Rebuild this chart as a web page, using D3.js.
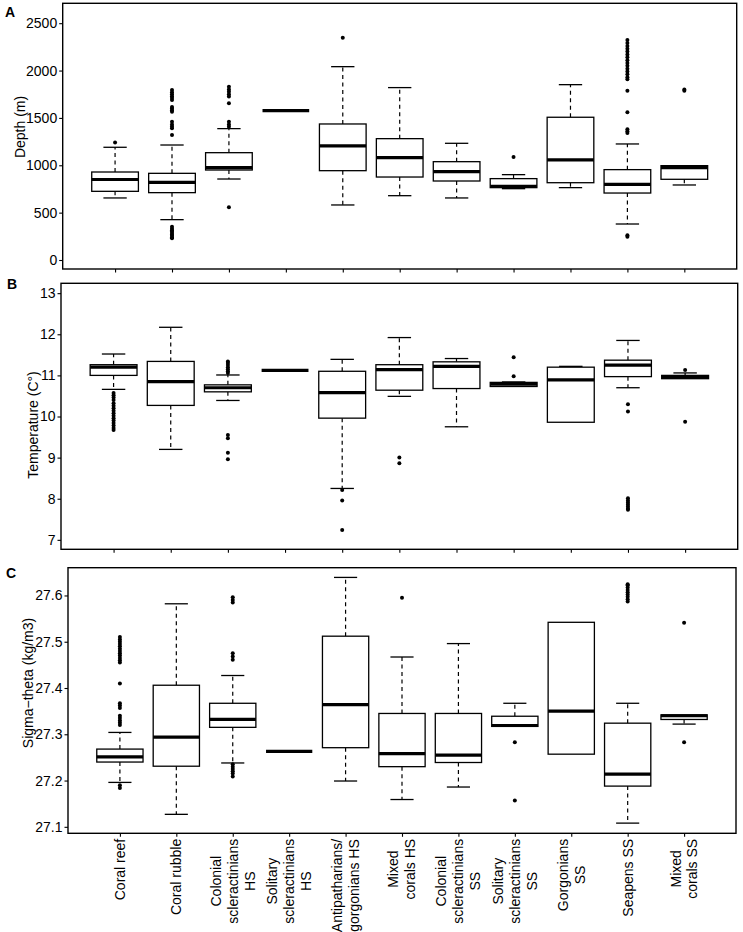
<!DOCTYPE html>
<html lang="en">
<head>
  <meta charset="UTF-8">
  <title>Boxplots - Depth, Temperature, Sigma-theta</title>
  <script src="https://d3js.org/d3.v7.min.js"></script>
  <style>
    body { margin: 0; background: #fff; }
    svg { font-family: "Liberation Sans", Arial, sans-serif; }
    .axis path { display: none; }
    .axis line { stroke: #000; stroke-width: 1.1px; }
    .axis text { font-size: 14px; fill: #000; }
    .frame { fill: none; stroke: #000; stroke-width: 1.4px; }
    .box { fill: #fff; stroke: #000; stroke-width: 1.3px; }
    .median { stroke: #000; stroke-width: 3.2px; }
    .whisker { stroke: #000; stroke-width: 1.2px; stroke-dasharray: 4,3.5; }
    .cap { stroke: #000; stroke-width: 1.3px; }
  </style>
</head>
<body>
  <svg width="743" height="932"></svg>

  <script>
    // categories, lines split for the rotated labels
    const categories = [
      ["Coral reef"],
      ["Coral rubble"],
      ["Colonial", "scleractinians", "HS"],
      ["Solitary", "scleractinians", "HS"],
      ["Antipatharians/", "gorgonians HS"],
      ["Mixed", "corals HS"],
      ["Colonial", "scleractinians", "SS"],
      ["Solitary", "scleractinians", "SS"],
      ["Gorgonians", "SS"],
      ["Seapens SS"],
      ["Mixed", "corals SS"]
    ];

    // [lower whisker, q1, median, q3, upper whisker]
    const depthBoxes = [
      [655, 725, 850, 929, 1190],
      [426, 711, 820, 915, 1214],
      [855, 950, 975, 1133, 1387],
      [1577, 1577, 1577, 1577, 1577],
      [581, 943, 1204, 1436, 2041],
      [679, 876, 1080, 1281, 1820],
      [655, 834, 932, 1038, 1232],
      [753, 764, 778, 859, 901],
      [764, 816, 1056, 1507, 1851],
      [380, 707, 799, 954, 1225],
      [792, 852, 975, 996, 996]
    ];
    const depthOutliers = [
      [1240],
      [229, 240, 255, 270, 285, 300, 315, 330, 352,
       1320, 1390, 1410, 1430, 1460, 1566, 1580, 1600, 1615,
       1690, 1710, 1730, 1750, 1770, 1795],
      [556, 1408, 1430, 1460, 1655, 1725, 1750, 1775, 1800, 1830],
      [],
      [2347],
      [],
      [],
      [1088],
      [],
      [246, 262, 1340, 1360, 1380, 1560, 1788, 1908, 1930, 1960, 1990, 2020,
       2050, 2080, 2110, 2140, 2170, 2200, 2230, 2260, 2290, 2323],
      [1788, 1800]
    ];

    const tempBoxes = [
      [10.66, 11.0, 11.20, 11.26, 11.52],
      [9.2, 10.27, 10.85, 11.34, 12.17],
      [10.39, 10.6, 10.70, 10.77, 11.01],
      [11.12, 11.12, 11.12, 11.12, 11.12],
      [8.25, 9.96, 10.58, 11.10, 11.39],
      [10.49, 10.64, 11.14, 11.26, 11.92],
      [9.75, 10.68, 11.22, 11.33, 11.41],
      [10.73, 10.73, 10.79, 10.83, 10.84],
      [9.86, 9.86, 10.89, 11.2, 11.22],
      [10.70, 10.97, 11.25, 11.37, 11.85],
      [10.92, 10.92, 10.96, 11.0, 11.06]
    ];
    const tempOutliers = [
      [10.57, 10.52, 10.46, 10.40, 10.32, 10.26, 10.2, 10.14, 10.08, 10.02,
       9.96, 9.9, 9.84, 9.78, 9.72, 9.67],
      [],
      [11.06, 11.1, 11.15, 11.2, 11.25, 11.3, 11.34, 9.55, 9.47, 9.12, 8.96],
      [],
      [8.21, 7.96, 7.24],
      [9.0, 8.86],
      [],
      [11.44, 10.98],
      [],
      [10.30, 10.12, 8.01, 7.96, 7.91, 7.86, 7.81, 7.76, 7.73],
      [11.13, 9.87]
    ];

    const sigmaBoxes = [
      [27.196, 27.24, 27.251, 27.268, 27.304],
      [27.127, 27.231, 27.294, 27.406, 27.582],
      [27.238, 27.315, 27.332, 27.367, 27.427],
      [27.263, 27.263, 27.263, 27.263, 27.263],
      [27.199, 27.271, 27.364, 27.512, 27.639],
      [27.159, 27.23, 27.258, 27.345, 27.467],
      [27.186, 27.239, 27.255, 27.345, 27.496],
      [27.317, 27.317, 27.319, 27.339, 27.367],
      [27.257, 27.257, 27.35, 27.542, 27.542],
      [27.108, 27.188, 27.214, 27.324, 27.367],
      [27.322, 27.332, 27.34, 27.342, 27.342]
    ];
    const sigmaOutliers = [
      [27.184, 27.19, 27.32, 27.325, 27.33, 27.335, 27.34, 27.357, 27.362, 27.367,
       27.41, 27.455, 27.46, 27.465, 27.47, 27.475, 27.48, 27.485, 27.49,
       27.495, 27.5, 27.505, 27.51],
      [],
      [27.209, 27.215, 27.22, 27.225, 27.23, 27.235, 27.461, 27.468, 27.475,
       27.585, 27.59, 27.596],
      [],
      [],
      [27.595],
      [],
      [27.283, 27.157],
      [],
      [27.587, 27.592, 27.597, 27.602, 27.607, 27.612, 27.617, 27.622, 27.624],
      [27.541, 27.283]
    ];

    const depthTicks = [0, 500, 1000, 1500, 2000, 2500];
    const tempTicks = [7, 8, 9, 10, 11, 12, 13];
    const sigmaTicks = [27.1, 27.2, 27.3, 27.4, 27.5, 27.6];

    const svg = d3.select("svg");

    const panels = [
      { letter: "A", title: "Depth (m)", boxes: depthBoxes, outliers: depthOutliers,
        ticks: depthTicks, fmt: d3.format("d"), domain: [-95, 2710],
        left: 62.7, right: 736.7, top: 3.3, bottom: 269,
        letterPos: [5, 17], titlePos: [20, 127], labels: false },
      { letter: "B", title: "Temperature (C°)", boxes: tempBoxes, outliers: tempOutliers,
        ticks: tempTicks, fmt: d3.format("d"), domain: [6.77, 13.24],
        left: 61, right: 737.7, top: 283.3, bottom: 549.3,
        letterPos: [7, 289], titlePos: [33, 425], labels: false },
      { letter: "C", title: "Sigma\u2212theta (kg/m3)", boxes: sigmaBoxes, outliers: sigmaOutliers,
        ticks: sigmaTicks, fmt: d3.format(".1f"), domain: [27.086, 27.66],
        left: 68, right: 736, top: 567.7, bottom: 833.3,
        letterPos: [6, 578], titlePos: [28, 683], labels: true }
    ];

    const idx = d3.range(categories.length);

    panels.forEach(p => {
      const x = d3.scalePoint()
                  .domain(idx)
                  .range([p.left, p.right])
                  .padding(0.92);
      const y = d3.scaleLinear()
                  .domain(p.domain)
                  .range([p.bottom, p.top]);
      const bw = x.step() * 0.82;

      const g = svg.append("g");

      // y axis
      g.append("g")
        .attr("class", "axis")
        .attr("transform", `translate(${p.left},0)`)
        .call(d3.axisLeft(y).tickValues(p.ticks).tickFormat(p.fmt).tickSize(3.5).tickPadding(2));

      // x axis ticks
      const xa = g.append("g")
        .attr("class", "axis")
        .attr("transform", `translate(0,${p.bottom})`)
        .call(d3.axisBottom(x).tickSize(3.5).tickFormat(""));

      // boxes
      const b = g.selectAll(".bp")
        .data(p.boxes)
        .enter().append("g")
        .attr("class", "bp")
        .attr("transform", (_, i) => `translate(${x(i)},0)`);

      b.append("line").attr("class", "whisker")
        .attr("y1", d => y(d[3])).attr("y2", d => y(d[4]));
      b.append("line").attr("class", "whisker")
        .attr("y1", d => y(d[1])).attr("y2", d => y(d[0]));
      b.filter(d => d[4] > d[3]).append("line").attr("class", "cap")
        .attr("x1", -bw / 4).attr("x2", bw / 4)
        .attr("y1", d => y(d[4])).attr("y2", d => y(d[4]));
      b.filter(d => d[0] < d[1]).append("line").attr("class", "cap")
        .attr("x1", -bw / 4).attr("x2", bw / 4)
        .attr("y1", d => y(d[0])).attr("y2", d => y(d[0]));
      b.append("rect").attr("class", "box")
        .attr("x", -bw / 2).attr("width", bw)
        .attr("y", d => y(d[3]))
        .attr("height", d => y(d[1]) - y(d[3]));
      b.append("line").attr("class", "median")
        .attr("x1", -bw / 2).attr("x2", bw / 2)
        .attr("y1", d => y(d[2])).attr("y2", d => y(d[2]));

      // outliers
      b.each(function(_, i) {
        d3.select(this).selectAll("circle")
          .data(p.outliers[i])
          .enter().append("circle")
          .attr("r", 2)
          .attr("cy", v => y(v))
          .attr("fill", "#000");
      });

      // frame
      g.append("rect").attr("class", "frame")
        .attr("x", p.left).attr("y", p.top)
        .attr("width", p.right - p.left).attr("height", p.bottom - p.top);

      // panel letter
      g.append("text")
        .attr("x", p.letterPos[0]).attr("y", p.letterPos[1])
        .attr("font-size", 14).attr("font-weight", "bold")
        .text(p.letter);

      // y title
      g.append("text")
        .attr("transform", `translate(${p.titlePos[0]},${p.titlePos[1]}) rotate(-90)`)
        .attr("text-anchor", "middle")
        .attr("dy", "0.35em")
        .attr("font-size", 14)
        .text(p.title);

      // x labels (rotated, lines centred, block ending near the axis)
      if (p.labels) {
        const lineH = 17;
        categories.forEach((lines, i) => {
          const lg = g.append("g")
            .attr("transform", `translate(${x(i)},${p.bottom + 5.5}) rotate(-90)`);
          const ts = lines.map((t, k) => lg.append("text")
            .attr("text-anchor", "middle")
            .attr("font-size", 14)
            .attr("y", (k - (lines.length - 1) / 2) * lineH)
            .attr("dy", "0.35em")
            .text(t));
          const maxLen = d3.max(ts, t => t.node().getComputedTextLength());
          ts.forEach(t => t.attr("x", -maxLen / 2));
        });
      }
    });
  </script>
</body>
</html>
